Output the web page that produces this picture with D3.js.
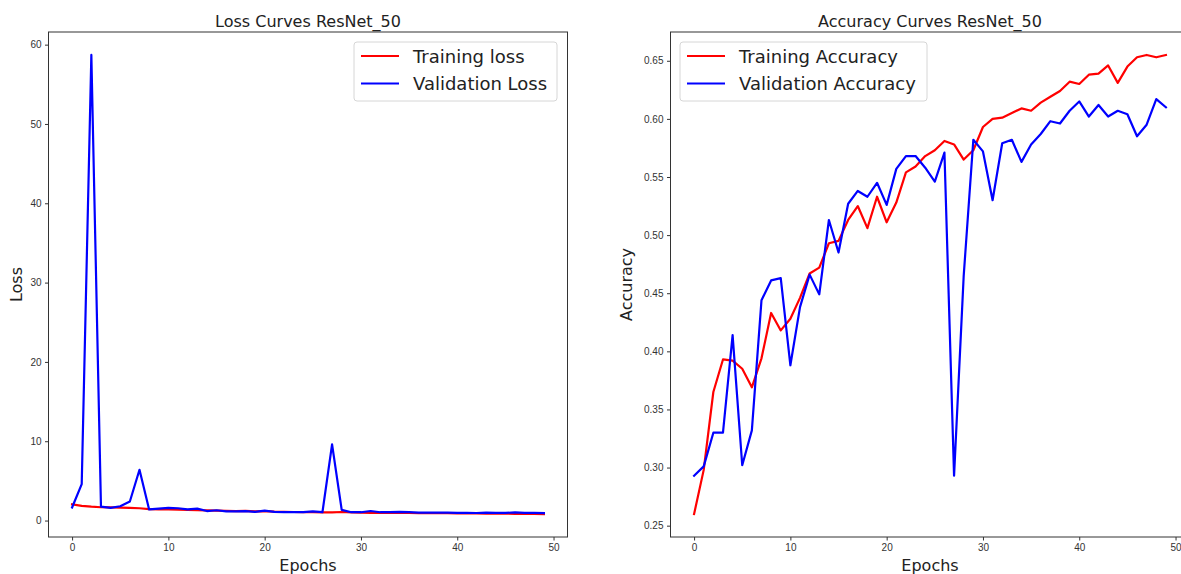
<!DOCTYPE html>
<html>
<head>
<meta charset="utf-8">
<script src="https://cdn.jsdelivr.net/npm/d3@7"></script>
<style>
  body { margin: 0; background: #fff; }
  svg { display: block; font-family: "DejaVu Sans", sans-serif; }
  .axis path, .axis line { stroke: #333; }
  .axis text { fill: #333; font-size: 10px; }
</style>
</head>
<body>
<div id="chart"></div>
<script>
// Loss / accuracy curves for ResNet_50, two panels side by side

const epochs = d3.range(0, 50);

const trainLoss = [2.05, 1.85, 1.75, 1.68, 1.65, 1.62, 1.6, 1.55, 1.45, 1.42,
  1.4, 1.36, 1.33, 1.3, 1.28, 1.25, 1.22, 1.2, 1.22, 1.15,
  1.18, 1.12, 1.1, 1.08, 1.07, 1.06, 1.03, 1.04, 1.08, 1.04,
  1.0, 0.98, 0.98, 0.97, 0.96, 0.95, 0.94, 0.93, 0.92, 0.92,
  0.91, 0.9, 0.89, 0.88, 0.9, 0.87, 0.85, 0.84, 0.84, 0.82];

const valLoss = [1.65, 4.6, 58.7, 1.75, 1.6, 1.8, 2.4, 6.4, 1.4, 1.5,
  1.6, 1.55, 1.4, 1.5, 1.2, 1.3, 1.15, 1.15, 1.2, 1.1,
  1.25, 1.1, 1.05, 1.05, 1.05, 1.15, 1.05, 9.6, 1.35, 1.05,
  1.05, 1.2, 1.05, 1.05, 1.1, 1.05, 1.0, 1.0, 1.0, 1.0,
  0.98, 0.98, 0.95, 1.0, 0.98, 0.97, 1.02, 0.98, 0.97, 0.95];

const trainAcc = [0.26, 0.298, 0.365, 0.393, 0.392, 0.385, 0.369, 0.394, 0.433, 0.418,
  0.428, 0.446, 0.467, 0.472, 0.493, 0.495, 0.513, 0.525, 0.506, 0.533,
  0.511, 0.528, 0.554, 0.559, 0.568, 0.573, 0.581, 0.578, 0.565, 0.573,
  0.593, 0.6, 0.601, 0.605, 0.609, 0.607, 0.614, 0.619, 0.624, 0.632,
  0.63, 0.638, 0.639, 0.646, 0.631, 0.645, 0.653, 0.655, 0.653, 0.655];

const valAcc = [0.293, 0.301, 0.33, 0.33, 0.414, 0.302, 0.332, 0.444, 0.461, 0.463,
  0.388, 0.438, 0.466, 0.449, 0.513, 0.485, 0.527, 0.538, 0.533, 0.545,
  0.526, 0.557, 0.568, 0.568, 0.558, 0.546, 0.571, 0.293, 0.465, 0.582,
  0.572, 0.53, 0.579, 0.582, 0.563, 0.578, 0.587, 0.598, 0.596, 0.607,
  0.615, 0.602, 0.612, 0.602, 0.607, 0.604, 0.585, 0.595, 0.617, 0.61];

const xTicks = [0, 10, 20, 30, 40, 50];
const lossTicks = [0, 10, 20, 30, 40, 50, 60];
const accTicks = [0.25, 0.30, 0.35, 0.40, 0.45, 0.50, 0.55, 0.60, 0.65];

const W = 1181, H = 574;
const svg = d3.select("#chart").append("svg")
  .attr("width", W).attr("height", H);

// matplotlib-style 5% padding around the data range
function padded(vals) {
  const [lo, hi] = d3.extent(vals);
  const m = (hi - lo) * 0.05;
  return [lo - m, hi + m];
}

function panel(opts) {
  const { left, right, top, bottom } = opts;
  const g = svg.append("g");

  const x = d3.scaleLinear().domain(padded(epochs)).range([left, right]);
  const y = d3.scaleLinear().domain(padded(opts.series[0].values.concat(opts.series[1].values)))
    .range([bottom, top]);

  g.append("g").attr("class", "axis")
    .attr("transform", `translate(0,${bottom})`)
    .call(d3.axisBottom(x).tickValues(xTicks).tickSize(3.5).tickPadding(3.5).tickFormat(d3.format("d")))
    .call(a => a.select(".domain").remove());

  g.append("g").attr("class", "axis")
    .attr("transform", `translate(${left},0)`)
    .call(d3.axisLeft(y).tickValues(opts.yTicks).tickSize(3.5).tickPadding(3.5).tickFormat(opts.yFormat))
    .call(a => a.select(".domain").remove());

  // lines
  const line = d3.line().x((d, i) => x(epochs[i])).y(d => y(d));
  g.append("clipPath").attr("id", opts.id + "clip")
    .append("rect").attr("x", left).attr("y", top).attr("width", right - left).attr("height", bottom - top);
  opts.series.forEach(s => {
    g.append("path")
      .attr("clip-path", `url(#${opts.id}clip)`)
      .attr("d", line(s.values))
      .attr("fill", "none")
      .attr("stroke", s.color)
      .attr("stroke-width", 2.2)
      .attr("stroke-linejoin", "round")
      .attr("stroke-linecap", "square");
  });

  // frame
  g.append("rect")
    .attr("x", left).attr("y", top)
    .attr("width", right - left).attr("height", bottom - top)
    .attr("fill", "none").attr("stroke", "#333").attr("stroke-width", 1);

  // title & axis labels
  g.append("text")
    .attr("x", (left + right) / 2).attr("y", 27)
    .attr("text-anchor", "middle")
    .style("font-size", "16px").style("fill", "#222")
    .text(opts.title);

  g.append("text")
    .attr("x", (left + right) / 2).attr("y", 571)
    .attr("text-anchor", "middle")
    .style("font-size", "16px").style("fill", "#222")
    .text("Epochs");

  g.append("text")
    .attr("transform", `translate(${opts.yLabelX},${(top + bottom) / 2}) rotate(-90)`)
    .attr("text-anchor", "middle")
    .style("font-size", "16px").style("fill", "#222")
    .text(opts.yLabel);

  // legend
  const lg = g.append("g").attr("transform", `translate(${opts.legendX},42)`);
  lg.append("rect")
    .attr("width", opts.legendW).attr("height", 59)
    .attr("rx", 3).attr("ry", 3)
    .attr("fill", "#fff").attr("fill-opacity", 0.8)
    .attr("stroke", "#d6d6d6").attr("stroke-width", 1);
  opts.series.forEach((s, i) => {
    const yy = 14 + i * 27.5;
    lg.append("line")
      .attr("x1", 7).attr("x2", 45).attr("y1", yy).attr("y2", yy)
      .attr("stroke", s.color).attr("stroke-width", 2.2);
    lg.append("text")
      .attr("x", 59).attr("y", yy + 6.5)
      .style("font-size", "18px").style("fill", "#222")
      .text(s.name);
  });
}

panel({
  id: "loss",
  left: 48.5, right: 567.5, top: 32, bottom: 537,
  title: "Loss Curves ResNet_50",
  yLabel: "Loss", yLabelX: 22,
  yTicks: lossTicks, yFormat: d3.format("d"),
  legendX: 354, legendW: 203,
  series: [
    { name: "Training loss", values: trainLoss, color: "#ff0000" },
    { name: "Validation Loss", values: valLoss, color: "#0000ff" }
  ]
});

panel({
  id: "acc",
  left: 670.5, right: 1189.5, top: 32, bottom: 537,
  title: "Accuracy Curves ResNet_50",
  yLabel: "Accuracy", yLabelX: 632,
  yTicks: accTicks, yFormat: d3.format(".2f"),
  legendX: 680, legendW: 247,
  series: [
    { name: "Training Accuracy", values: trainAcc, color: "#ff0000" },
    { name: "Validation Accuracy", values: valAcc, color: "#0000ff" }
  ]
});
</script>
</body>
</html>
